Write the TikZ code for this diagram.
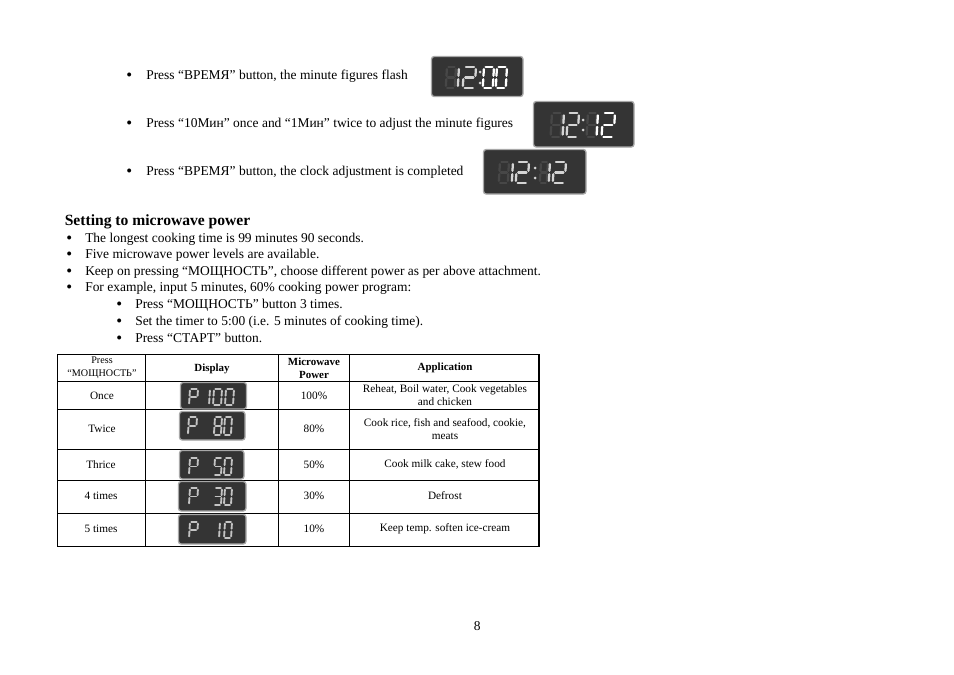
\documentclass[tikz,border=0pt]{standalone}
\usepackage{fontspec}
\setmainfont{Liberation Serif}
\newcommand\seglw{1.7pt}
\newcommand\dseg[6]{% x y w h colour segments
  \begin{scope}[shift={(#1,#2)},x=#3*0.75pt,y=-#4*0.75pt,xslant=0.06]
    \coordinate (a1) at (.16,0); \coordinate (a2) at (.84,0);
    \coordinate (b1) at (1,.1); \coordinate (b2) at (1,.42);
    \coordinate (c1) at (1,.58); \coordinate (c2) at (1,.9);
    \coordinate (d1) at (.16,1); \coordinate (d2) at (.84,1);
    \coordinate (e1) at (0,.58); \coordinate (e2) at (0,.9);
    \coordinate (f1) at (0,.1); \coordinate (f2) at (0,.42);
    \coordinate (g1) at (.16,.5); \coordinate (g2) at (.84,.5);
    \foreach \s in {#6} {\draw[segline,draw=#5] (\s1) -- (\s2);}
  \end{scope}}
\newcommand\dcolon[4]{% x y1 y2 colour
  \fill[#4] (#1,#2) circle (1.5); \fill[#4] (#1,#3) circle (1.5);}
\definecolor{panel}{HTML}{343434}
\definecolor{rimc}{HTML}{A8A8A8}
\definecolor{dimseg}{HTML}{474747}
\definecolor{midseg}{HTML}{D4D4D4}
\definecolor{tabseg}{HTML}{C4C4C4}
\tikzset{
  segline/.style={line width=\seglw,line cap=round},
  panelbox/.style={fill=panel,draw=rimc,line width=1pt,rounded corners=2pt},
  body/.style={anchor=base west,inner sep=0pt,font=\fontsize{10.1}{12}\selectfont},
  bul/.style={anchor=base west,inner sep=0pt,font=\fontsize{12.5}{13}\selectfont},
  head/.style={anchor=base west,inner sep=0pt,font=\fontsize{11.7}{14}\selectfont\bfseries},
  cell/.style={anchor=center,inner sep=0pt,align=center,font=\fontsize{8.45}{9.75}\selectfont},
  cellp/.style={anchor=center,inner sep=0pt,align=center,font=\fontsize{7.6}{9.75}\selectfont},
  cellb/.style={anchor=center,inner sep=0pt,align=center,font=\fontsize{8.2}{9.75}\selectfont\bfseries},
  rulethin/.style={draw=black,line width=0.7pt},
  rulethick/.style={draw=black,line width=1.2pt}
}
\begin{document}
\begin{tikzpicture}[x=0.75pt,y=-0.75pt]
\useasboundingbox (0,0) rectangle (954,675);
% top instructions
\node[bul] (b1) at (126,80.4) {•}; \node[body] (t1) at (146,79) {Press “ВРЕМЯ” button, the minute figures flash};
\node[bul] (b2) at (126,128.4) {•}; \node[body] (t2) at (146,127) {Press “10Мин” once and “1Мин” twice to adjust the minute figures};
\node[bul] (b3) at (126,176.4) {•}; \node[body] (t3) at (146,175) {Press “ВРЕМЯ” button, the clock adjustment is completed};
% clock 1
\draw[panelbox] (431.5,56.5) rectangle (523,96.5);
\dseg{447}{67}{9}{21}{dimseg}{a,b,c,d,e,f,g}
\dseg{459}{67}{0}{21}{midseg}{b,c}
\dseg{464}{67}{12}{21}{midseg}{a,b,g,e,d}
\dcolon{480}{72}{83}{midseg}
\dseg{484}{67}{10}{21}{white}{a,b,c,d,e,f}
\dseg{497}{67}{10}{21}{white}{a,b,c,d,e,f}
% clock 2
\draw[panelbox] (533.5,101.5) rectangle (634,147);
\dseg{552}{113}{10}{24}{dimseg}{a,b,c,d,e,f,g}
\dseg{564}{113}{0}{24}{midseg}{b,c}
\dseg{568}{113}{11}{24}{midseg}{a,b,g,e,d}
\dcolon{583}{120}{130}{midseg}
\dseg{588}{113}{9}{24}{dimseg}{a,b,c,d,e,f,g}
\dseg{598}{113}{0}{24}{white}{b,c}
\dseg{603}{113}{12}{24}{white}{a,b,g,e,d}
% clock 3
\draw[panelbox] (483.5,149.5) rectangle (586,194);
\dseg{500}{162}{9}{21}{dimseg}{a,b,c,d,e,f,g}
\dseg{513}{162}{0}{21}{midseg}{b,c}
\dseg{517}{162}{12}{21}{midseg}{a,b,g,e,d}
\dcolon{535}{168}{178}{midseg}
\dseg{541}{162}{7}{21}{dimseg}{a,b,c,d,e,f,g}
\dseg{550}{162}{0}{21}{midseg}{b,c}
\dseg{554}{162}{12}{21}{midseg}{a,b,g,e,d}
% section
\node[head] (h) at (64.5,225) {Setting to microwave power};
\node[bul] (s1b) at (66,243.4) {•}; \node[body] (s1) at (85,242) {The longest cooking time is 99 minutes 90 seconds.};
\node[bul] (s2b) at (66,259.4) {•}; \node[body] (s2) at (85,258) {Five microwave power levels are available.};
\node[bul] (s3b) at (66,276.4) {•}; \node[body] (s3) at (85,275) {Keep on pressing “МОЩНОСТЬ”, choose different power as per above attachment.};
\node[bul] (s4b) at (66,292.4) {•}; \node[body] (s4) at (85,291) {For example, input 5 minutes, 60\% cooking power program:};
\node[bul] (s5b) at (116,309.4) {•}; \node[body] (s5) at (135,308) {Press “МОЩНОСТЬ” button 3 times.};
\node[bul] (s6b) at (116,326.4) {•}; \node[body] (s6) at (135,325) {Set the timer to 5:00 (i.e. 5 minutes of cooking time).};
\node[bul] (s7b) at (116,343.4) {•}; \node[body] (s7) at (135,342) {Press “СТАРТ” button.};
% table rules
\draw[rulethin] (57,354.5) -- (539,354.5);
\foreach \yy in {381,409,449,480,513} {\draw[rulethin] (57,\yy) -- (539,\yy);}
\foreach \xx in {57,145,278,349} {\draw[rulethin] (\xx,354) -- (\xx,546.5);}
\draw[rulethick] (57,546.5) -- (539.5,546.5);
\draw[rulethick] (539,354) -- (539,547);
% table header
\node[cellp] (c01) at (102,367.5) {Press\\“МОЩНОСТЬ”};
\node[cellb] (c02) at (212,368.5) {Display};
\node[cellb] (c03) at (314,368) {Microwave\\Power};
\node[cellb] (c04) at (445,368) {Application};
% rows
\node[cell] (c11) at (102,395.5) {Once};
\node[cell] (c13) at (314,395.5) {100\%};
\node[cell] (c14) at (445,395) {Reheat, Boil water, Cook vegetables\\and chicken};
\node[cell] (c21) at (102,428.5) {Twice};
\node[cell] (c23) at (314,428.5) {80\%};
\node[cell] (c24) at (445,429) {Cook rice, fish and seafood, cookie,\\meats};
\node[cell] (c31) at (101,464.5) {Thrice};
\node[cell] (c33) at (314,464.5) {50\%};
\node[cell] (c34) at (445,464.5) {Cook milk cake, stew food};
\node[cell] (c41) at (101,495.5) {4 times};
\node[cell] (c43) at (314,495.5) {30\%};
\node[cell] (c44) at (445,495.5) {Defrost};
\node[cell] (c51) at (101,528.5) {5 times};
\node[cell] (c53) at (314,528.5) {10\%};
\node[cell] (c54) at (445,528.5) {Keep temp. soften ice-cream};
% table displays
\renewcommand\seglw{1.4pt}
\draw[panelbox] (180.5,382.5) rectangle (246.5,409);
\dseg{190}{389}{8}{16}{tabseg}{a,b,g,e,f}
\dseg{210}{389}{0}{16}{tabseg}{b,c}
\dseg{214}{389}{8}{16}{tabseg}{a,b,c,d,e,f}
\dseg{226}{389}{8}{16}{tabseg}{a,b,c,d,e,f}
\draw[panelbox] (179.5,411.5) rectangle (245,440);
\dseg{189}{417}{8}{18}{tabseg}{a,b,g,e,f}
\dseg{215}{417}{7}{18}{tabseg}{a,b,c,d,e,f,g}
\dseg{225}{417}{7}{18}{tabseg}{a,b,c,d,e,f}
\draw[panelbox] (179.5,450.5) rectangle (244,479);
\dseg{190}{458}{8}{17}{tabseg}{a,b,g,e,f}
\dseg{215}{458}{7}{17}{tabseg}{a,f,g,c,d}
\dseg{225}{458}{7}{17}{tabseg}{a,b,c,d,e,f}
\draw[panelbox] (178.5,481.5) rectangle (246,511);
\dseg{190}{488}{8}{17}{tabseg}{a,b,g,e,f}
\dseg{215}{488}{7}{17}{tabseg}{a,b,g,c,d}
\dseg{225}{488}{7}{17}{tabseg}{a,b,c,d,e,f}
\draw[panelbox] (178.5,514.5) rectangle (246,544);
\dseg{190}{522}{8}{16}{tabseg}{a,b,g,e,f}
\dseg{220}{522}{0}{16}{tabseg}{b,c}
\dseg{225}{522}{7}{16}{tabseg}{a,b,c,d,e,f}
% page number
\node[body] (pg) at (473.5,630) {8};
\end{tikzpicture}
\end{document}
